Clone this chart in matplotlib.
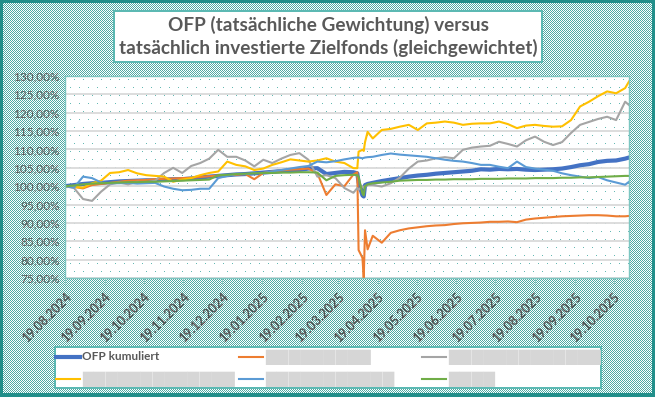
import numpy as np
import pandas as pd
import matplotlib
matplotlib.use("Agg")
import matplotlib.pyplot as plt
import matplotlib.dates as mdates
from matplotlib.lines import Line2D
from matplotlib.ticker import FuncFormatter, MultipleLocator

plt.rcParams['font.family'] = ['Lato', 'DejaVu Sans']

# ---- data (percent of start value) ----
dates = ["2024-08-19","2024-08-26","2024-09-02","2024-09-09","2024-09-16","2024-09-23","2024-09-30",
         "2024-10-07","2024-10-14","2024-10-21","2024-10-28","2024-11-04","2024-11-11","2024-11-18",
         "2024-11-25","2024-12-02","2024-12-09","2024-12-16","2024-12-23","2024-12-30","2025-01-06",
         "2025-01-13","2025-01-20","2025-01-27","2025-02-03","2025-02-10","2025-02-17","2025-02-24",
         "2025-03-03","2025-03-10","2025-03-17","2025-03-24","2025-03-31","2025-04-03","2025-04-04",
         "2025-04-07","2025-04-08","2025-04-09","2025-04-11","2025-04-15","2025-04-22","2025-04-29",
         "2025-05-06","2025-05-13","2025-05-20","2025-05-27","2025-06-03","2025-06-10","2025-06-17",
         "2025-06-24","2025-07-01","2025-07-08","2025-07-15","2025-07-22","2025-07-29","2025-08-05",
         "2025-08-12","2025-08-19","2025-08-26","2025-09-02","2025-09-09","2025-09-16","2025-09-23",
         "2025-09-30","2025-10-07","2025-10-14","2025-10-21","2025-10-28","2025-10-31"]

ofp = [100.0, 100.3, 100.6, 100.8, 100.9, 101.1, 101.3, 101.4, 101.5, 101.6,
       101.6, 101.8, 101.9, 101.9, 102.1, 102.4, 102.6, 102.8, 103.0, 103.2,
       103.3, 103.5, 103.7, 103.9, 104.1, 104.3, 104.4, 104.8, 104.9, 103.3,
       103.6, 103.9, 103.8, 103.5, 101.0, 97.5, 97.2, 100.3, 100.6, 100.9,
       101.4, 101.8, 102.2, 102.6, 102.9, 103.1, 103.4, 103.6, 103.8, 104.0,
       104.2, 104.6, 104.5, 104.7, 104.6, 104.7, 104.5, 104.4, 104.5, 104.6,
       104.8, 105.2, 105.7, 106.0, 106.6, 106.9, 107.0, 107.5, 107.8]

fund_orange = [100.0, 99.8, 99.4, 100.3, 100.6, 100.9, 101.2, 101.5, 101.6, 101.7,
               101.9, 102.0, 102.1, 102.2, 102.3, 102.5, 102.7, 102.9, 103.0, 103.1,
               103.3, 101.9, 103.6, 104.0, 104.3, 104.5, 104.6, 104.8, 103.5, 97.6,
               100.5, 100.0, 103.2, 103.8, 82.6, 80.5, 75.0, 88.0, 82.8, 86.5,
               84.6, 87.3, 88.0, 88.5, 88.8, 89.1, 89.3, 89.4, 89.7, 89.9,
               90.0, 90.1, 90.3, 90.3, 90.4, 90.2, 90.9, 91.2, 91.4, 91.6,
               91.8, 91.9, 92.0, 92.1, 92.1, 92.0, 91.8, 91.8, 91.9]

fund_gray = [100.0, 99.5, 96.5, 96.0, 98.5, 100.5, 101.0, 100.5, 101.2, 101.0,
             101.5, 103.6, 105.0, 103.6, 105.5, 106.3, 107.5, 109.9, 108.0, 108.0,
             107.0, 105.4, 107.2, 106.3, 107.5, 108.5, 109.0, 107.2, 102.6, 103.0,
             102.2, 99.5, 98.2, 99.5, 99.0, 100.0, 99.5, 100.0, 100.3, 100.3,
             99.9, 100.8, 102.3, 104.8, 106.7, 107.0, 107.6, 107.9, 107.6, 109.9,
             110.5, 110.8, 111.0, 112.1, 111.5, 110.8, 112.5, 113.5, 112.1, 111.2,
             112.0, 114.5, 116.7, 117.5, 118.3, 118.9, 118.0, 123.0, 122.1]

fund_yellow = [100.0, 99.8, 99.6, 100.8, 101.5, 103.6, 103.8, 104.4, 103.5, 103.0,
               102.8, 102.6, 101.2, 101.8, 102.2, 103.0, 103.6, 104.0, 106.7, 105.8,
               105.4, 104.4, 104.8, 105.8, 106.5, 107.3, 107.0, 106.7, 107.0, 107.6,
               106.7, 106.3, 104.9, 104.9, 109.4, 109.9, 109.6, 112.0, 114.8, 113.0,
               115.3, 115.6, 116.2, 116.7, 115.3, 117.1, 117.3, 117.6, 117.3, 116.7,
               117.0, 117.1, 117.1, 117.6, 116.9, 115.8, 116.5, 116.7, 116.4, 116.2,
               116.3, 118.0, 121.7, 123.0, 124.5, 125.8, 125.3, 126.7, 128.5]

fund_lightblue = [100.0, 99.6, 102.6, 102.2, 101.0, 100.8, 100.8, 100.9, 100.7, 100.8,
                  100.9, 99.9, 99.3, 98.9, 99.0, 99.3, 99.3, 102.2, 102.8, 103.3,
                  103.3, 103.5, 103.6, 104.0, 104.4, 104.8, 105.2, 105.5, 106.7, 106.5,
                  106.8, 107.3, 107.7, 107.8, 107.8, 107.6, 107.7, 107.8, 107.9, 108.0,
                  108.5, 108.9, 108.6, 108.4, 108.2, 108.0, 107.6, 107.2, 106.9, 106.7,
                  106.3, 105.8, 105.8, 105.3, 104.9, 106.7, 105.2, 104.8, 104.5, 104.2,
                  103.5, 103.0, 102.6, 102.2, 102.5, 101.6, 101.0, 100.4, 101.2]

fund_green = [100.0, 100.2, 100.5, 100.7, 100.8, 100.9, 101.0, 101.1, 101.1, 101.2,
              101.2, 101.3, 101.4, 101.5, 101.6, 101.7, 101.8, 103.0, 103.1, 103.3,
              103.4, 103.5, 103.6, 103.6, 103.7, 103.7, 103.8, 103.8, 103.7, 101.6,
              102.8, 103.0, 103.1, 103.0, 102.5, 98.0, 97.5, 100.0, 100.5, 100.8,
              101.0, 101.2, 101.5, 101.6, 101.7, 101.7, 101.8, 101.8, 101.9, 101.9,
              101.9, 102.0, 102.0, 102.0, 102.1, 102.1, 102.1, 102.2, 102.2, 102.2,
              102.3, 102.3, 102.4, 102.4, 102.5, 102.6, 102.7, 102.8, 102.8]

# legend names are blurred in the source, shown as grey blocks
labels = ["OFP kumuliert", "\u2588" * 9, "\u2588" * 13, "\u2588" * 13, "\u2588" * 11, "\u2588" * 4]
series = [ofp, fund_orange, fund_gray, fund_yellow, fund_lightblue, fund_green]
colors = ["#4472C4", "#ED7D31", "#A5A5A5", "#FFC000", "#5B9BD5", "#70AD47"]
widths = [3.0, 1.5, 1.5, 1.5, 1.5, 1.5]

title = "OFP (tatsächliche Gewichtung) versus\ntatsächlich investierte Zielfonds (gleichgewichtet)"

x = pd.to_datetime(dates)

W, H = 655, 397
fig = plt.figure(figsize=(W / 100, H / 100), dpi=100)

# patterned excel-like background, built pixel by pixel
bg = np.ones((H, W, 3))
rr, cc = np.mgrid[0:H, 0:W]
bg[(rr + cc) % 2 == 0] = np.array([78, 170, 164]) / 255
dark = np.array([33, 143, 138]) / 255
bg[:3, :] = dark
bg[-4:, :] = dark
bg[:, :3] = dark
bg[:, -3:] = dark
edge = np.array([92, 185, 179]) / 255


def white_box(y0, y1, x0, x1, lw=2):
    bg[y0:y1, x0:x1] = edge
    bg[y0 + lw:y1 - lw, x0 + lw:x1 - lw] = 1.0


white_box(10, 63, 113, 543)
white_box(346, 389, 54, 602)
# plot area: white with sparse teal dots
pa = bg[76:279, 65:630]
pa[:] = 1.0
pr, pc = np.mgrid[0:pa.shape[0], 0:pa.shape[1]]
dots = (pr % 8 == 3) & ((pc + 4 * ((pr // 8) % 2)) % 9 == 0)
pa[dots] = np.array([100, 185, 179]) / 255

fig.figimage(bg, xo=0, yo=0, origin='upper', zorder=-10)

ax = fig.add_axes([65 / W, 1 - 278 / H, (629 - 65) / W, (278 - 76) / H])
ax.set_facecolor('none')

for s, c, lw in zip(series, colors, widths):
    ax.plot(x, s, color=c, lw=lw, solid_joinstyle='round')

ax.set_ylim(75, 130)
ax.yaxis.set_major_locator(MultipleLocator(5))
ax.yaxis.set_major_formatter(FuncFormatter(lambda v, p: f"{v:.2f}".replace('.', ',') + '%'))
ax.set_xlim(pd.Timestamp("2024-08-19"), pd.Timestamp("2025-10-31"))
ax.xaxis.set_major_locator(mdates.MonthLocator(bymonthday=19))
ax.xaxis.set_major_formatter(mdates.DateFormatter('%d.%m.%Y'))

ax.yaxis.grid(True, color='#DADADA', lw=1.3)
ax.set_axisbelow(True)
for sp in ax.spines.values():
    sp.set_color('#7CC6C1')
    sp.set_linewidth(1.0)

ax.tick_params(axis='y', length=0, pad=4, labelsize=8.5, labelcolor='#595959')
ax.tick_params(axis='x', length=4, width=0.8, color='#8FC9C4', pad=5, labelsize=9, labelcolor='#505050')
plt.setp(ax.get_xticklabels(), rotation=45, ha='right', rotation_mode='anchor', fontweight='bold')

fig.text(328 / W, 1 - 36.5 / H, title, ha='center', va='center', fontsize=13.7,
         fontweight='bold', color='#595959', linespacing=1.3)

# legend drawn by hand, 3 columns x 2 rows
col_x = [56, 239, 422]
row_y = [357, 379]
for i, (lab, c, lw) in enumerate(zip(labels, colors, widths)):
    x0 = col_x[i % 3]
    y0 = row_y[i // 3]
    fig.add_artist(Line2D([x0 / W, (x0 + 24) / W], [1 - y0 / H, 1 - y0 / H],
                          transform=fig.transFigure, color=c, lw=lw))
    if i == 0:
        fig.text((x0 + 26) / W, 1 - y0 / H, lab, ha='left', va='center', fontsize=8.5,
                 fontweight='bold', color='#595959')
    else:
        fig.text((x0 + 26) / W, 1 - y0 / H, lab, ha='left', va='center', fontsize=11,
                 color='#D6D6D6', family='DejaVu Sans')

fig.savefig('out.png', dpi=100)
